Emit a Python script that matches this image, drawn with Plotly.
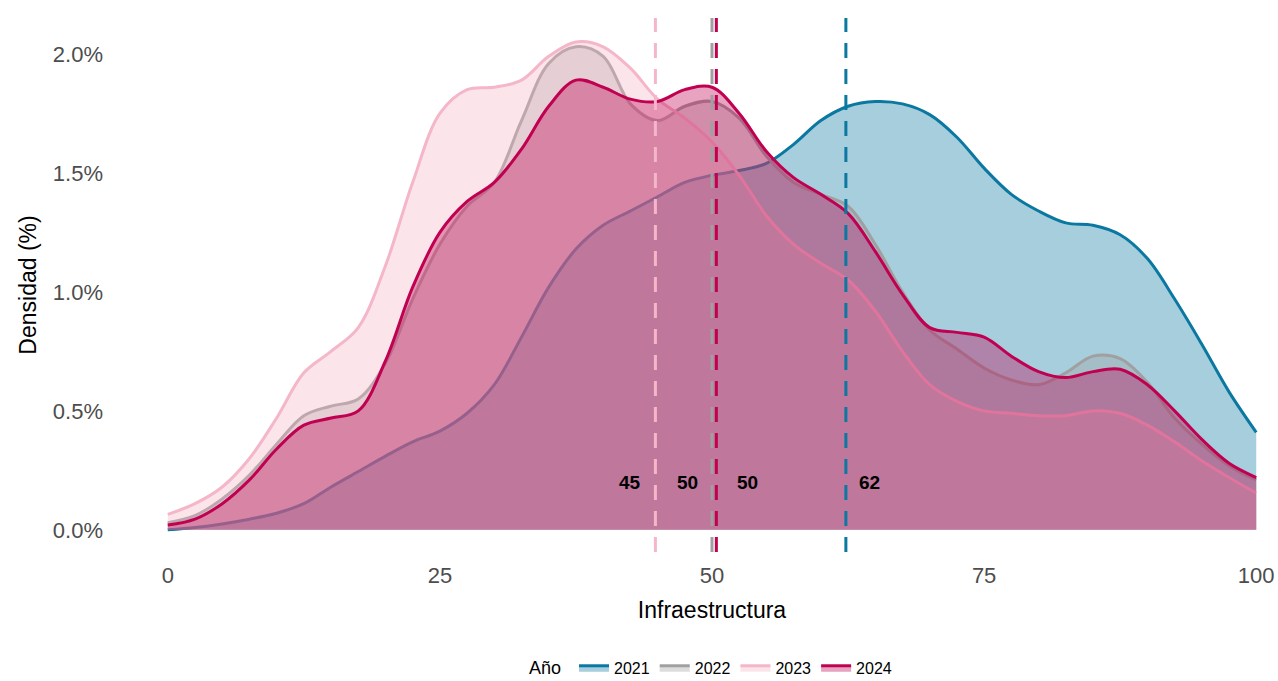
import plotly.graph_objects as go

# ---------------- data ----------------
x_grid = [0, 2.5, 5, 7.5, 10, 12.5, 15, 17.5, 20, 22.5, 25, 27.5, 30, 32.5, 35, 37.5,
          40, 42.5, 45, 47.5, 50, 52.5, 55, 57.5, 60, 62.5, 65, 67.5, 70, 72.5, 75,
          77.5, 80, 82.5, 85, 87.5, 90, 92.5, 95, 97.5, 100]

years = ["2021", "2022", "2023", "2024"]

dens_2021 = [0.00, 0.01, 0.025, 0.045, 0.07, 0.11, 0.18, 0.245, 0.31, 0.37, 0.415, 0.49,
             0.61, 0.81, 1.02, 1.18, 1.28, 1.34, 1.40, 1.46, 1.49, 1.51, 1.54, 1.62, 1.72,
             1.78, 1.80, 1.79, 1.745, 1.65, 1.52, 1.41, 1.34, 1.29, 1.28, 1.24, 1.14, 0.97,
             0.78, 0.58, 0.41]
dens_2022 = [0.03, 0.06, 0.13, 0.23, 0.36, 0.48, 0.52, 0.55, 0.70, 0.97, 1.20, 1.36, 1.46,
             1.72, 1.96, 2.03, 1.99, 1.79, 1.72, 1.78, 1.80, 1.73, 1.57, 1.46, 1.41, 1.36,
             1.20, 1.00, 0.84, 0.76, 0.68, 0.63, 0.61, 0.66, 0.73, 0.72, 0.62, 0.47, 0.36,
             0.27, 0.21]
dens_2023 = [0.065, 0.11, 0.18, 0.30, 0.47, 0.66, 0.75, 0.85, 1.11, 1.46, 1.75, 1.85, 1.86,
             1.89, 1.99, 2.05, 2.03, 1.94, 1.81, 1.73, 1.63, 1.49, 1.32, 1.20, 1.12, 1.05,
             0.92, 0.75, 0.61, 0.54, 0.50, 0.49, 0.48, 0.48, 0.50, 0.49, 0.44, 0.37, 0.29,
             0.22, 0.155]
dens_2024 = [0.02, 0.045, 0.11, 0.21, 0.34, 0.44, 0.47, 0.50, 0.71, 1.02, 1.25, 1.38, 1.46,
             1.60, 1.78, 1.89, 1.86, 1.81, 1.80, 1.85, 1.86, 1.75, 1.59, 1.48, 1.41, 1.33,
             1.17, 0.99, 0.85, 0.83, 0.81, 0.73, 0.665, 0.64, 0.665, 0.675, 0.61, 0.50, 0.38,
             0.28, 0.22]

means = [62.3, 50.0, 44.8, 50.4]
mean_labels = ["62", "50", "45", "50"]
label_y = 0.2  # density (%) at which the mean labels sit

y_ticks = [0, 0.5, 1.0, 1.5, 2.0]
y_ticktext = ["0.0%", "0.5%", "1.0%", "1.5%", "2.0%"]
x_ticks = [0, 25, 50, 75, 100]

# ---------------- style ----------------
line_colors = {"2021": (10, 120, 160), "2022": (160, 160, 160),
               "2023": (244, 182, 200), "2024": (192, 0, 80)}
alpha = 0.36
label_side = {"2021": ("left", 11), "2022": ("right", -12),
              "2023": ("right", -12), "2024": ("left", 19)}
FONT = "Liberation Sans, Arial, sans-serif"

series = {"2021": dens_2021, "2022": dens_2022, "2023": dens_2023, "2024": dens_2024}

fig = go.Figure()

for yr in years:
    r, g, b = line_colors[yr]
    fig.add_trace(go.Scatter(
        x=x_grid, y=series[yr], name=yr, mode="lines",
        line=dict(color=f"rgb({r},{g},{b})", width=3, shape="spline", smoothing=1.0),
        fill="tozeroy", fillcolor=f"rgba({r},{g},{b},{alpha})",
        hoverinfo="x+y",
    ))

for yr, m, lab in zip(years, means, mean_labels):
    r, g, b = line_colors[yr]
    fig.add_shape(type="line", x0=m, x1=m, y0=0, y1=1, xref="x", yref="paper",
                  line=dict(color=f"rgb({r},{g},{b})", width=3, dash="15px,11px"),
                  layer="above")
    side, shift = label_side[yr]
    fig.add_annotation(x=m, y=label_y, text=f"<b>{lab}</b>", showarrow=False,
                       xanchor=side, xshift=shift, yanchor="middle",
                       font=dict(family=FONT, size=19, color="black"))

fig.update_layout(
    width=1278, height=681,
    paper_bgcolor="white", plot_bgcolor="white",
    margin=dict(l=146, r=0, t=18, b=129, autoexpand=False),
    font=dict(family=FONT, color="#4d4d4d"),
    showlegend=True,
    legend=dict(orientation="h", x=0.5, xanchor="center", y=-0.217, yanchor="middle",
                title=dict(text="Año ", font=dict(size=18, color="black"), side="left"),
                font=dict(size=16, color="black"), itemwidth=30,
                traceorder="normal"),
    xaxis=dict(range=[-2, 102], tickvals=x_ticks, showgrid=False, zeroline=False,
               showline=False, ticks="", tickfont=dict(size=22, color="#4d4d4d"),
               ticklabelstandoff=8, automargin=False,
               title=dict(text="Infraestructura", font=dict(size=23, color="black"), standoff=14)),
    yaxis=dict(range=[-0.093, 2.151], tickvals=y_ticks, ticktext=y_ticktext,
               showgrid=False, zeroline=False, showline=False, ticks="",
               tickfont=dict(size=22, color="#4d4d4d"), ticklabelstandoff=42,
               automargin=False,
               title=dict(text="Densidad (%)", font=dict(size=23, color="black"), standoff=9)),
)

# remove the default page margin so the figure fills the window exactly
fig.write_html("out.html", config={"displayModeBar": False},
               post_script="document.body.style.margin='0';document.body.style.overflow='hidden';")
